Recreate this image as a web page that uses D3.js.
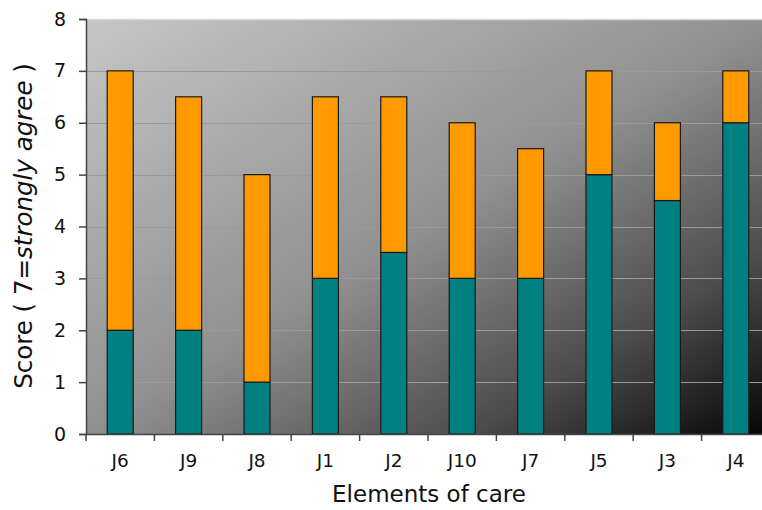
<!DOCTYPE html>
<html>
<head>
<meta charset="utf-8">
<script src="https://cdn.jsdelivr.net/npm/d3@7"></script>
<style>
  html, body { margin: 0; padding: 0; background: #fff; }
  svg { display: block; font-family: "DejaVu Sans", Verdana, sans-serif; }
</style>
</head>
<body>
<svg id="chart" width="762" height="510"></svg>
<script>
// Elements of care, ordered as shown on the axis
const categories = ["J6", "J9", "J8", "J1", "J2", "J10", "J7", "J5", "J3", "J4"];
// Lower (teal) score and upper (orange) score for each element
const lowScores  = [2, 2, 1, 3, 3.5, 3, 3, 5, 4.5, 6];
const highScores = [7, 6.5, 5, 6.5, 6.5, 6, 5.5, 7, 6, 7];
const yTicks = [0, 1, 2, 3, 4, 5, 6, 7, 8];

const svg = d3.select("#chart");
const margin = { left: 86, top: 19, right: 770, bottom: 434 };

const x = d3.scaleBand().domain(categories).range([margin.left, margin.right]).paddingInner(0.62).paddingOuter(0.31);
const y = d3.scaleLinear().domain([0, 8]).range([margin.bottom, margin.top]);

// diagonal fill of the plot area
const defs = svg.append("defs");
const grad = defs.append("linearGradient").attr("id", "bg")
  .attr("x1", 0).attr("y1", 0).attr("x2", 1).attr("y2", 1);
grad.append("stop").attr("offset", "0%").attr("stop-color", "#c6c6c6");
grad.append("stop").attr("offset", "50%").attr("stop-color", "#909090");
grad.append("stop").attr("offset", "78%").attr("stop-color", "#4c4c4c");
grad.append("stop").attr("offset", "100%").attr("stop-color", "#050505");

svg.append("rect")
  .attr("x", margin.left).attr("y", margin.top)
  .attr("width", margin.right - margin.left).attr("height", margin.bottom - margin.top)
  .attr("fill", "url(#bg)");

// top border of the plot area
svg.append("line")
  .attr("x1", margin.left).attr("x2", margin.right)
  .attr("y1", margin.top + 0.5).attr("y2", margin.top + 0.5)
  .attr("stroke", "#d8d8d8").attr("stroke-width", 1.5);

// horizontal gridlines
svg.append("g").selectAll("line")
  .data(yTicks.filter(d => d > 0 && d < 8))
  .join("line")
  .attr("x1", margin.left).attr("x2", margin.right)
  .attr("y1", d => Math.round(y(d)) + 0.5).attr("y2", d => Math.round(y(d)) + 0.5)
  .attr("stroke", "#9a9a9a").attr("stroke-width", 1.2);

// stacked bars
const bars = svg.append("g");
bars.selectAll("rect.low")
  .data(categories)
  .join("rect").attr("class", "low")
  .attr("x", d => x(d)).attr("width", x.bandwidth())
  .attr("y", (d, i) => y(lowScores[i]))
  .attr("height", (d, i) => y(0) - y(lowScores[i]))
  .attr("fill", "#008080").attr("stroke", "#1a1a1a").attr("stroke-width", 1.2);
bars.selectAll("rect.high")
  .data(categories)
  .join("rect").attr("class", "high")
  .attr("x", d => x(d)).attr("width", x.bandwidth())
  .attr("y", (d, i) => y(highScores[i]))
  .attr("height", (d, i) => y(lowScores[i]) - y(highScores[i]))
  .attr("fill", "#ff9900").attr("stroke", "#1a1a1a").attr("stroke-width", 1.2);

// y axis
const yAxis = svg.append("g")
  .attr("transform", `translate(${margin.left},0)`)
  .call(d3.axisLeft(y).tickValues(yTicks).tickFormat(d3.format("d")).tickSize(7).tickPadding(13));
yAxis.select(".domain").attr("stroke", "#444").attr("stroke-width", 1.5);
yAxis.selectAll(".tick line").attr("stroke", "#444").attr("stroke-width", 1.5);
yAxis.selectAll(".tick text").attr("font-size", 19).attr("fill", "#111")
  .attr("font-family", "'DejaVu Sans', Verdana, sans-serif");

// x axis with ticks on category boundaries
const xAxis = svg.append("g")
  .attr("transform", `translate(0,${margin.bottom})`)
  .call(d3.axisBottom(x).tickSize(0).tickPadding(20));
xAxis.select(".domain").attr("stroke", "#444").attr("stroke-width", 1.5);
xAxis.selectAll(".tick text").attr("font-size", 18.5).attr("fill", "#111")
  .attr("font-family", "'DejaVu Sans', Verdana, sans-serif");
const step = x.step();
xAxis.append("g").selectAll("line")
  .data(d3.range(categories.length))
  .join("line")
  .attr("x1", i => margin.left + i * step).attr("x2", i => margin.left + i * step)
  .attr("y1", 0).attr("y2", 7)
  .attr("stroke", "#444").attr("stroke-width", 1.5);

// axis titles
svg.append("text")
  .attr("x", 429).attr("y", 502)
  .attr("text-anchor", "middle").attr("font-size", 23).attr("fill", "#111")
  .text("Elements of care");

const yTitle = svg.append("text")
  .attr("transform", "translate(32,226) rotate(-90)")
  .attr("text-anchor", "middle").attr("font-size", 24.5).attr("fill", "#111");
yTitle.append("tspan").text("Score ( 7=");
yTitle.append("tspan").attr("font-style", "italic").text("strongly agree");
yTitle.append("tspan").text(" )");
</script>
</body>
</html>
